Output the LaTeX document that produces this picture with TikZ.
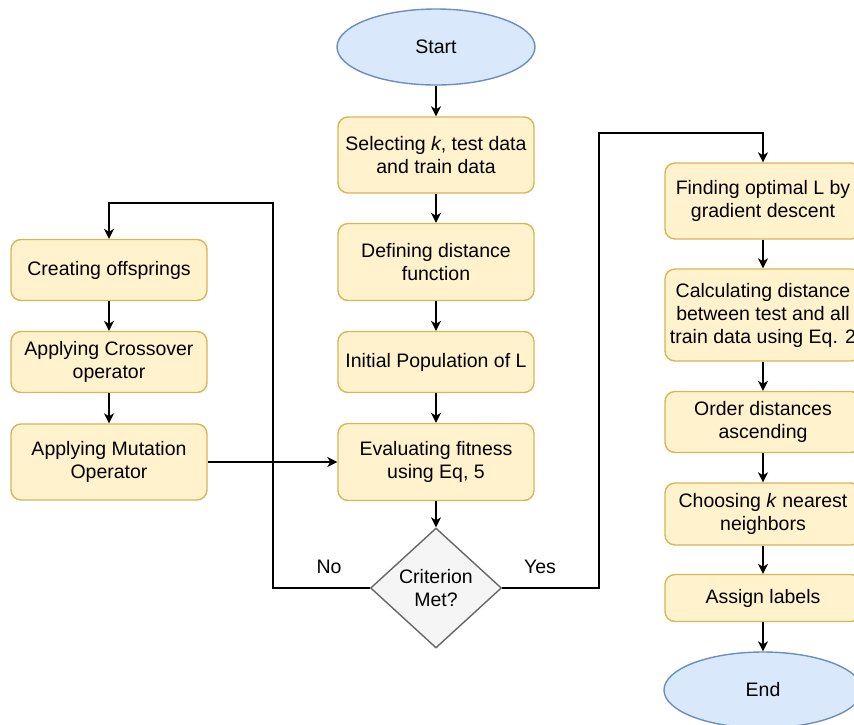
\documentclass[tikz,border=0pt]{standalone}
\usepackage{fontspec}
\setmainfont{Liberation Sans}
\usetikzlibrary{shapes.geometric,arrows.meta}
\definecolor{boxfill}{HTML}{FFF2CC}
\definecolor{boxline}{HTML}{D6B656}
\definecolor{termfill}{HTML}{DAE8FC}
\definecolor{termline}{HTML}{6C8EBF}
\definecolor{decfill}{HTML}{F5F5F5}
\definecolor{decline}{HTML}{666666}
\newcommand{\flowfont}{\fontsize{19.5}{23}\selectfont}
\tikzset{
  box/.style={draw=boxline,fill=boxfill,rounded corners=10pt,line width=1.4pt,
    minimum width=196pt,inner sep=0pt,align=center,font=\flowfont},
  term/.style={ellipse,draw=termline,fill=termfill,line width=1.4pt,
    minimum width=198pt,minimum height=76pt,inner sep=0pt,font=\flowfont},
  dec/.style={diamond,draw=decline,fill=decfill,line width=1.4pt,shape aspect=1.09,
    minimum width=131pt,minimum height=120pt,inner sep=0pt,align=center,font=\flowfont},
  flow/.style={line width=1.5pt,-{Stealth[length=10pt,width=10pt,inset=3pt]}}
}
\begin{document}
\begin{tikzpicture}[x=1pt,y=-1pt]
      \useasboundingbox (0,0) rectangle (854,724);
      \path
        (436,47) node[term] (start){Start}
        (436,155) node[box,minimum height=76pt] (sel){Selecting \textit{k}, test data\\and train data}
        (436,262) node[box,minimum height=77pt] (dist){Defining distance\\function}
        (436,362) node[box,minimum height=61pt] (pop){Initial Population of L}
        (436,462) node[box,minimum height=77pt] (fit){Evaluating fitness\\using Eq, 5}
        (436,588) node[dec] (crit){Criterion\\Met?}
        (109,270) node[box,minimum height=61pt] (off){Creating offsprings}
        (109,362) node[box,minimum height=61pt] (cross){Applying Crossover\\operator}
        (109,462) node[box,minimum height=76pt] (mut){Applying Mutation\\Operator}
        (763,201) node[box,minimum height=76pt] (opt){Finding optimal L by\\gradient descent}
        (763,315) node[box,minimum height=92pt] (calc){Calculating distance\\between test and all\\train data using Eq. 2}
        (763,422) node[box,minimum height=61pt] (ord){Order distances\\ascending}
        (763,514) node[box,minimum height=62pt] (knn){Choosing \textit{k} nearest\\neighbors}
        (763,598) node[box,minimum height=47pt] (lab){Assign labels}
        (763,690) node[term] (stop){End}
        (329,567) node[font=\flowfont] (no){No}
        (540,567) node[font=\flowfont] (yes){Yes};
      \coordinate (nobend) at (273,203);
      \coordinate (yesbend) at (599,133);
      \begin{scope}[flow]
        \draw (start) to (sel);
        \draw (sel) to (dist);
        \draw (dist) to (pop);
        \draw (pop) to (fit);
        \draw (fit) to (crit);
        \draw (crit.west) -| (nobend) -| (off);
        \draw (off) to (cross);
        \draw (cross) to (mut);
        \draw (mut) to (fit);
        \draw (crit.east) -| (yesbend) -| (opt);
        \draw (opt) to (calc);
        \draw (calc) to (ord);
        \draw (ord) to (knn);
        \draw (knn) to (lab);
        \draw (lab) to (stop);
      \end{scope}
    \end{tikzpicture}
\end{document}
